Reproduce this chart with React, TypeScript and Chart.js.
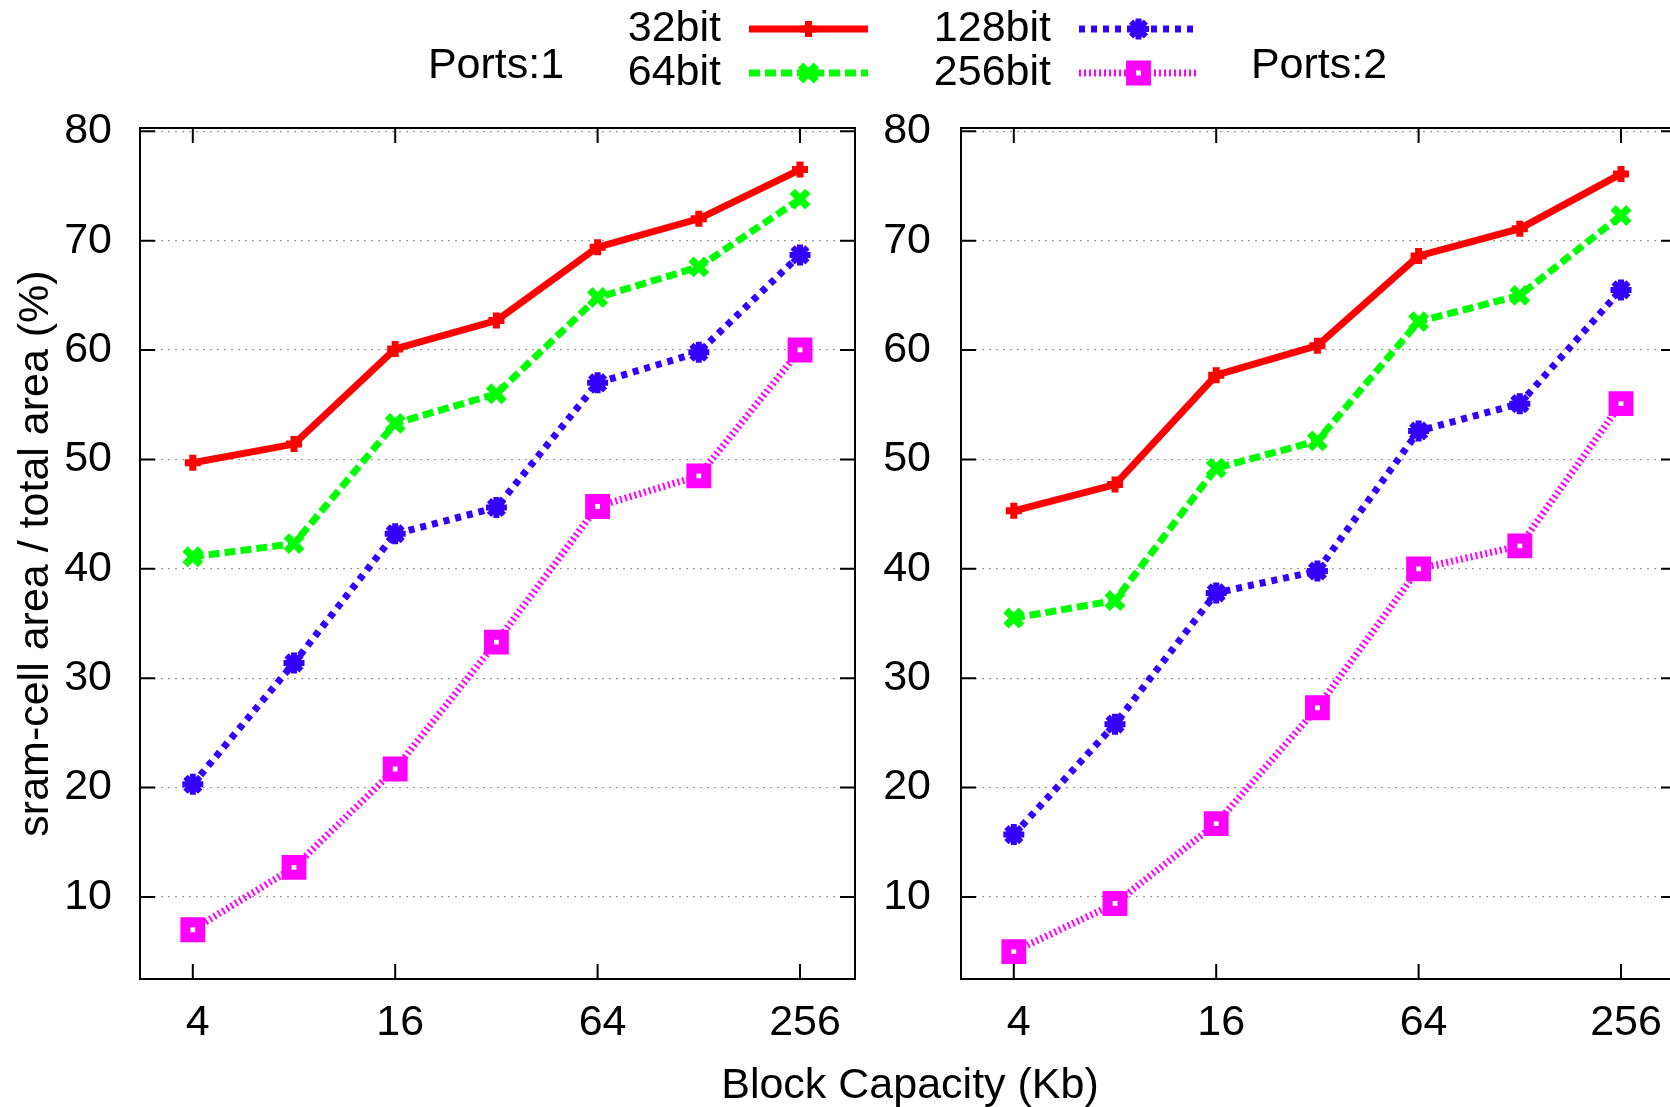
import React, { useEffect, useRef } from 'react';
import { Chart, registerables, PointElement } from 'chart.js';

Chart.register(...registerables);

// ---------- data ----------
const capacities = [4, 8, 16, 32, 64, 128, 256];
const xTickValues = [4, 16, 64, 256];
const yTickValues = [10, 20, 30, 40, 50, 60, 70, 80];
const seriesLabels = ['32bit', '64bit', '128bit', '256bit'];
const panelLabels = ['Ports:1', 'Ports:2'];
const xTitle = 'Block Capacity (Kb)';
const yTitle = 'sram-cell area / total area (%)';

const ports1_32 = [49.7, 51.4, 60.1, 62.7, 69.4, 72.0, 76.5];
const ports1_64 = [41.1, 42.3, 53.3, 56.0, 64.8, 67.6, 73.8];
const ports1_128 = [20.3, 31.4, 43.2, 45.6, 57.0, 59.8, 68.7];
const ports1_256 = [7.0, 12.7, 21.7, 33.3, 45.7, 48.5, 60.0];

const ports2_32 = [45.3, 47.7, 57.7, 60.4, 68.6, 71.1, 76.1];
const ports2_64 = [35.5, 37.1, 49.2, 51.7, 62.6, 65.0, 72.3];
const ports2_128 = [15.7, 25.8, 37.8, 39.8, 52.6, 55.1, 65.5];
const ports2_256 = [5.0, 9.4, 16.7, 27.3, 40.0, 42.1, 55.1];

// ---------- styles ----------
const FONT = '"Liberation Sans", Arial, Helvetica, sans-serif';
const FS = 43;
const STYLES = [
  { color: '#ff0000', dash: [] as number[], pointStyle: 'cross', radius: 8, pbw: 7, bg: '#ff0000' },
  { color: '#00ff00', dash: [11, 5], pointStyle: 'crossRot', radius: 11, pbw: 7.5, bg: '#00ff00' },
  { color: '#3300ff', dash: [6, 6], pointStyle: 'star', radius: 10.5, pbw: 6, bg: '#3300ff' },
  { color: '#ff00ff', dash: [2, 3], pointStyle: 'rect', radius: 10.5, pbw: 10, bg: '#ffffff' },
];

const X_MIN = 2.786;
const X_MAX = 373.1;
const Y_MIN = 2.5;
const Y_MAX = 80.3;

const framePlugin = {
  id: 'gpFrame',
  beforeDatasetsDraw(chart: any) {
    const { ctx, chartArea } = chart;
    const { left, right, top, bottom } = chartArea;
    const xs = chart.scales.x;
    const ys = chart.scales.y;
    ctx.save();
    ctx.strokeStyle = '#000';
    ctx.lineWidth = 2;
    ctx.setLineDash([]);
    ctx.strokeRect(left, top, right - left, bottom - top);
    ctx.beginPath();
    for (const t of ys.ticks) {
      const py = ys.getPixelForValue(t.value);
      ctx.moveTo(left, py);
      ctx.lineTo(left + 15, py);
      ctx.moveTo(right, py);
      ctx.lineTo(right - 15, py);
    }
    for (const t of xs.ticks) {
      const px = xs.getPixelForValue(t.value);
      ctx.moveTo(px, bottom);
      ctx.lineTo(px, bottom - 15);
      ctx.moveTo(px, top);
      ctx.lineTo(px, top + 15);
    }
    ctx.stroke();
    ctx.restore();
  },
};

const legendPlugin = {
  id: 'gpLegend',
  afterDraw(chart: any) {
    const ctx = chart.ctx;
    ctx.save();
    ctx.font = `${FS}px ${FONT}`;
    ctx.fillStyle = '#000';
    ctx.textBaseline = 'middle';
    ctx.textAlign = 'center';
    ctx.fillText(panelLabels[0], 496, 66);
    ctx.fillText(panelLabels[1], 1319, 66);
    ctx.fillText(xTitle, 910, 1086);

    const colRight = [721, 1051];
    const rowY = [29, 73];
    const area = { left: 0, top: 0, right: chart.width, bottom: chart.height };
    chart.data.datasets.forEach((ds: any, i: number) => {
      const col = Math.floor(i / 2);
      const row = i % 2;
      const tx = colRight[col];
      const ty = rowY[row];
      ctx.textAlign = 'right';
      ctx.fillStyle = '#000';
      ctx.fillText(ds.label, tx, ty);
      const x0 = tx + 28;
      const x1 = x0 + 119;
      ctx.save();
      ctx.strokeStyle = ds.borderColor;
      ctx.lineWidth = ds.borderWidth;
      ctx.setLineDash(ds.borderDash || []);
      ctx.lineCap = 'butt';
      ctx.beginPath();
      ctx.moveTo(x0, ty);
      ctx.lineTo(x1, ty);
      ctx.stroke();
      ctx.restore();
      const meta = chart.getDatasetMeta(i);
      const ref = meta.data[0];
      if (ref) {
        const p: any = new PointElement({ x: (x0 + x1) / 2, y: ty } as any);
        p.options = ref.options;
        ctx.save();
        ctx.setLineDash([]);
        p.draw(ctx, area);
        ctx.restore();
      }
    });
    ctx.restore();
  },
};

function buildDatasets(series: number[][]) {
  return series.map((vals, i) => {
    const s = STYLES[i];
    return {
      label: seriesLabels[i],
      data: capacities.map((c, j) => ({ x: c, y: vals[j] })),
      borderColor: s.color,
      backgroundColor: s.color,
      borderWidth: 7,
      borderDash: s.dash,
      borderCapStyle: 'butt',
      tension: 0,
      pointStyle: s.pointStyle,
      pointRadius: s.radius,
      pointHoverRadius: s.radius,
      pointBorderWidth: s.pbw,
      pointBorderColor: s.color,
      pointBackgroundColor: s.bg,
      clip: false,
    };
  });
}

function makeConfig(series: number[][], o: { yWidth: number; rightPad: number; showTitle: boolean; yPad: number; plugins: any[] }) {
  return {
    type: 'line',
    data: { datasets: buildDatasets(series) },
    plugins: o.plugins,
    options: {
      responsive: false,
      maintainAspectRatio: false,
      animation: false,
      events: [],
      layout: { autoPadding: false, padding: { left: 0, top: 128, right: o.rightPad, bottom: 0 } },
      plugins: { legend: { display: false }, tooltip: { enabled: false }, title: { display: false } },
      scales: {
        x: {
          type: 'logarithmic',
          bounds: 'data',
          min: X_MIN,
          max: X_MAX,
          afterBuildTicks: (scale: any) => {
            scale.ticks = xTickValues.map((v) => ({ value: v }));
          },
          afterFit: (scale: any) => {
            scale.height = 128;
          },
          grid: { display: false, drawTicks: false },
          border: { display: false },
          ticks: {
            autoSkip: false,
            maxRotation: 0,
            minRotation: 0,
            padding: 18,
            labelOffset: 5,
            color: '#000',
            font: { family: FONT, size: FS },
            callback: (v: any) => String(v),
          },
        },
        y: {
          type: 'linear',
          bounds: 'data',
          min: Y_MIN,
          max: Y_MAX,
          afterBuildTicks: (scale: any) => {
            scale.ticks = yTickValues.map((v) => ({ value: v }));
          },
          afterFit: (scale: any) => {
            scale.width = o.yWidth;
          },
          grid: { display: true, drawTicks: false, color: '#9a9a9a', lineWidth: 1.3 },
          border: { display: false, dash: [2, 5] },
          title: {
            display: o.showTitle,
            text: yTitle,
            color: '#000',
            font: { family: FONT, size: FS },
            padding: { top: 10, bottom: 0 },
          },
          ticks: {
            padding: o.yPad,
            color: '#000',
            font: { family: FONT, size: FS },
            callback: (v: any) => String(v),
          },
        },
      },
    },
  } as any;
}

export default function App() {
  const leftRef = useRef<HTMLCanvasElement>(null);
  const rightRef = useRef<HTMLCanvasElement>(null);

  useEffect(() => {
    const c1 = new Chart(
      leftRef.current!,
      makeConfig([ports1_32, ports1_64, ports1_128, ports1_256], {
        yWidth: 140,
        rightPad: 1670 - 855,
        showTitle: true,
        yPad: 28,
        plugins: [framePlugin, legendPlugin],
      })
    );
    const c2 = new Chart(
      rightRef.current!,
      makeConfig([ports2_32, ports2_64, ports2_128, ports2_256], {
        yWidth: 81,
        rightPad: 24,
        showTitle: false,
        yPad: 30,
        plugins: [framePlugin],
      })
    );
    return () => {
      c1.destroy();
      c2.destroy();
    };
  }, []);

  return (
    <div style={{ position: 'fixed', left: 0, top: 0, width: 1670, height: 1107, overflow: 'hidden', background: '#fff' }}>
      <canvas
        ref={leftRef}
        width={1670}
        height={1107}
        style={{ position: 'absolute', left: 0, top: 0, width: 1670, height: 1107 }}
      />
      <canvas
        ref={rightRef}
        width={820}
        height={1107}
        style={{ position: 'absolute', left: 880, top: 0, width: 820, height: 1107 }}
      />
    </div>
  );
}
